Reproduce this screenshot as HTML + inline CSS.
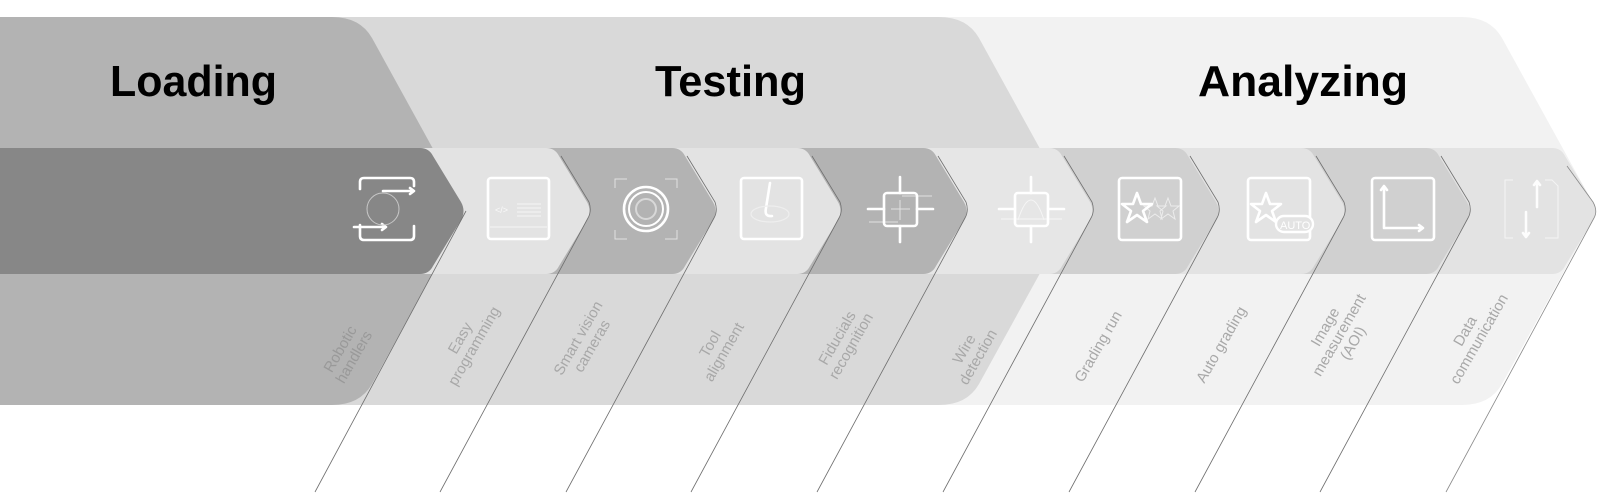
<!DOCTYPE html>
<html><head><meta charset="utf-8"><style>
html,body{margin:0;padding:0;background:#fff;}
svg{display:block;}
.t{font-family:"Liberation Sans",sans-serif;font-weight:bold;font-size:44px;fill:#000;}
.l{font-family:"Liberation Sans",sans-serif;font-size:15px;fill:#a8a8a8;}
.i{fill:none;stroke:#fff;stroke-width:2.6;stroke-linecap:round;stroke-linejoin:round;}
.f{fill:none;stroke:#fff;stroke-width:1;opacity:.6;}
</style></head><body>
<svg width="1599" height="498" viewBox="0 0 1599 498" xmlns="http://www.w3.org/2000/svg">
<!-- phases -->
<path d="M0,17 L1462,17 Q1490,17 1502,38 L1589,196 Q1597,211 1589,226 L1502,384 Q1490,405 1462,405 L0,405 Z" fill="#f2f2f2"/>
<path d="M0,17 L939,17 Q967,17 979,38 L1066,196 Q1074,211 1066,226 L979,384 Q967,405 939,405 L0,405 Z" fill="#d9d9d9"/>
<path d="M0,17 L332,17 Q360,17 372,38 L459,196 Q467,211 459,226 L372,384 Q360,405 332,405 L0,405 Z" fill="#b3b3b3"/>
<!-- band tiles right to left -->
<g>
<path d="M0,148 L1552,148 Q1561,148 1565,156 L1593,202 Q1598,211 1593,220 L1565,266 Q1561,274 1552,274 L0,274 Z" fill="#e3e3e3"/>
<path d="M0,148 L1426,148 Q1435,148 1439,156 L1467,202 Q1472,211 1467,220 L1439,266 Q1435,274 1426,274 L0,274 Z" fill="#d0d0d0"/>
<path d="M0,148 L1301,148 Q1310,148 1314,156 L1342,202 Q1347,211 1342,220 L1314,266 Q1310,274 1301,274 L0,274 Z" fill="#e3e3e3"/>
<path d="M0,148 L1175,148 Q1184,148 1188,156 L1216,202 Q1221,211 1216,220 L1188,266 Q1184,274 1175,274 L0,274 Z" fill="#d0d0d0"/>
<path d="M0,148 L1049,148 Q1058,148 1062,156 L1090,202 Q1095,211 1090,220 L1062,266 Q1058,274 1049,274 L0,274 Z" fill="#e6e6e6"/>
<path d="M0,148 L923,148 Q932,148 936,156 L964,202 Q969,211 964,220 L936,266 Q932,274 923,274 L0,274 Z" fill="#b3b3b3"/>
<path d="M0,148 L797,148 Q806,148 810,156 L838,202 Q843,211 838,220 L810,266 Q806,274 797,274 L0,274 Z" fill="#e3e3e3"/>
<path d="M0,148 L672,148 Q681,148 685,156 L713,202 Q718,211 713,220 L685,266 Q681,274 672,274 L0,274 Z" fill="#b3b3b3"/>
<path d="M0,148 L546,148 Q555,148 559,156 L587,202 Q592,211 587,220 L559,266 Q555,274 546,274 L0,274 Z" fill="#e3e3e3"/>
<path d="M0,148 L420,148 Q429,148 433,156 L461,202 Q466,211 461,220 L433,266 Q429,274 420,274 L0,274 Z" fill="#878787"/>
</g>
<!-- diagonal lines -->
<g fill="none" stroke="#6e6e6e" stroke-width="0.8">
<path d="M466,211 L315,492"/>
<path d="M561,156 L589,202 Q592,211 588,218 L440,492"/>
<path d="M687,156 L715,202 Q718,211 714,218 L566,492"/>
<path d="M812,156 L840,202 Q843,211 839,218 L691,492"/>
<path d="M938,156 L966,202 Q969,211 965,218 L817,492"/>
<path d="M1064,156 L1092,202 Q1095,211 1091,218 L943,492"/>
<path d="M1190,156 L1218,202 Q1221,211 1217,218 L1069,492"/>
<path d="M1316,156 L1344,202 Q1347,211 1343,218 L1195,492"/>
<path d="M1441,156 L1469,202 Q1472,211 1468,218 L1320,492"/>
<path d="M1567,166 L1593,202 Q1598,211 1594,218 L1446,492" stroke="#8a8a8a"/>
</g>
<!-- titles -->
<text class="t" x="110" y="96" textLength="167" lengthAdjust="spacingAndGlyphs">Loading</text>
<text class="t" x="655" y="96" textLength="151" lengthAdjust="spacingAndGlyphs">Testing</text>
<text class="t" x="1198" y="96" textLength="210" lengthAdjust="spacingAndGlyphs">Analyzing</text>
<!-- icons -->
<g>
<path class="i" d="M360,189 V182 Q360,178 364,178 H410 Q414,178 414,182 V186 M360,225 V236 Q360,240 364,240 H410 Q414,240 414,236 V226"/>
<path class="i" d="M383,191 H413 M410,188 L414,191 L410,194 M354,227 H385 M382,224 L386,227 L382,230"/>
<circle cx="383" cy="209" r="16" fill="none" stroke="#c8c8c8" stroke-width="1"/>
<rect class="i" x="488" y="178" width="61" height="61" rx="3"/>
<text x="495" y="213" font-family="Liberation Sans,sans-serif" font-size="9" fill="#fff" opacity=".8">&lt;/&gt;</text>
<path class="f" d="M517,204 H541 M517,208 H541 M517,212 H541 M517,216 H541 M490,227 H547"/>
<circle cx="646" cy="209" r="22" fill="none" stroke="#fff" stroke-width="2.6"/>
<circle cx="646" cy="209" r="17" fill="none" stroke="#fff" stroke-width="2"/>
<circle cx="646" cy="209" r="10" fill="none" stroke="#d8d8d8" stroke-width="2"/>
<path class="f" d="M615,188 V179 H627 M665,179 H677 V188 M615,230 V239 H627 M665,239 H677 V230"/>
<rect class="i" x="741" y="178" width="61" height="61" rx="3"/>
<path class="i" d="M770,183 L766,208 Q764,217 772,216"/>
<ellipse cx="770" cy="214" rx="19" ry="8" fill="none" stroke="#eee" stroke-width="1.2"/>
<rect class="i" x="884" y="193" width="33" height="33" rx="3"/>
<path class="i" d="M900,177 V193 M900,226 V242 M868,209 H884 M917,209 H933"/>
<path class="f" d="M891,209 H910 M900,200 V220 M869,222 H898 M902,196 H932"/>
<rect class="i" x="1015" y="193" width="33" height="33" rx="3"/>
<path class="i" d="M1031,177 V193 M1031,226 V242 M999,209 H1015 M1048,209 H1064"/>
<path class="f" d="M1018,220 Q1031,180 1044,220 M1001,219 H1062"/>
<rect class="i" x="1119" y="178" width="62" height="62" rx="3"/>
<path class="i" d="M1137,193 L1141,204 L1152,204 L1143,211 L1147,222 L1137,215 L1127,222 L1131,211 L1122,204 L1133,204 Z"/>
<path class="f" d="M1155,198 L1158,206 L1166,206 L1160,211 L1162,219 L1155,214 L1148,219 L1150,211 L1144,206 L1152,206 Z M1168,198 L1171,206 L1179,206 L1173,211 L1175,219 L1168,214 L1161,219 L1163,211 L1157,206 L1165,206 Z"/>
<rect class="i" x="1248" y="178" width="62" height="62" rx="3"/>
<path class="i" d="M1266,193 L1270,204 L1281,204 L1272,211 L1276,222 L1266,215 L1256,222 L1260,211 L1251,204 L1262,204 Z"/>
<rect x="1276" y="216" width="37" height="16" rx="8" fill="#e3e3e3" stroke="#fff" stroke-width="2.4"/>
<text x="1280" y="229" font-family="Liberation Sans,sans-serif" font-size="11" fill="#fff">AUTO</text>
<rect class="i" x="1372" y="178" width="62" height="62" rx="3"/>
<path class="i" d="M1384,187 V228 H1422"/>
<path class="i" d="M1381,190 L1384,186 L1387,190 M1419,225 L1423,228 L1419,231"/>
<path class="f" d="M1513,180 H1505 V238 H1513 M1545,180 H1552 L1558,186 V238 H1545" stroke-width="1.5"/>
<path class="i" d="M1537,181 V207 M1534,185 L1537,181 L1540,185 M1526,212 V237 M1523,233 L1526,237 L1529,233" opacity=".9"/>
</g>
<!-- labels -->
<g class="l">
<text transform="translate(347,353) rotate(-60)" text-anchor="middle" fill="#999"><tspan x="0" y="-3">Robotic</tspan><tspan x="0" y="13">handlers</tspan></text>
<text transform="translate(467,342) rotate(-60)" text-anchor="middle"><tspan x="0" y="-3">Easy</tspan><tspan x="0" y="13">programming</tspan></text>
<text transform="translate(585,342) rotate(-60)" text-anchor="middle"><tspan x="0" y="-3">Smart vision</tspan><tspan x="0" y="13">cameras</tspan></text>
<text transform="translate(717,348) rotate(-60)" text-anchor="middle"><tspan x="0" y="-3">Tool</tspan><tspan x="0" y="13">alignment</tspan></text>
<text transform="translate(844,342) rotate(-60)" text-anchor="middle"><tspan x="0" y="-3">Fiducials</tspan><tspan x="0" y="13">recognition</tspan></text>
<text transform="translate(971,353) rotate(-60)" text-anchor="middle"><tspan x="0" y="-3">Wire</tspan><tspan x="0" y="13">detection</tspan></text>
<text transform="translate(1099,347) rotate(-60)" text-anchor="middle"><tspan x="0" y="4">Grading run</tspan></text>
<text transform="translate(1222,345) rotate(-60)" text-anchor="middle"><tspan x="0" y="4">Auto grading</tspan></text>
<text transform="translate(1339,335) rotate(-60)" text-anchor="middle"><tspan x="0" y="-11">Image</tspan><tspan x="0" y="5">measurement</tspan><tspan x="0" y="21">(AOI)</tspan></text>
<text transform="translate(1472,335) rotate(-60)" text-anchor="middle"><tspan x="0" y="-3">Data</tspan><tspan x="0" y="13">communication</tspan></text>
</g>
</svg>
</body></html>
